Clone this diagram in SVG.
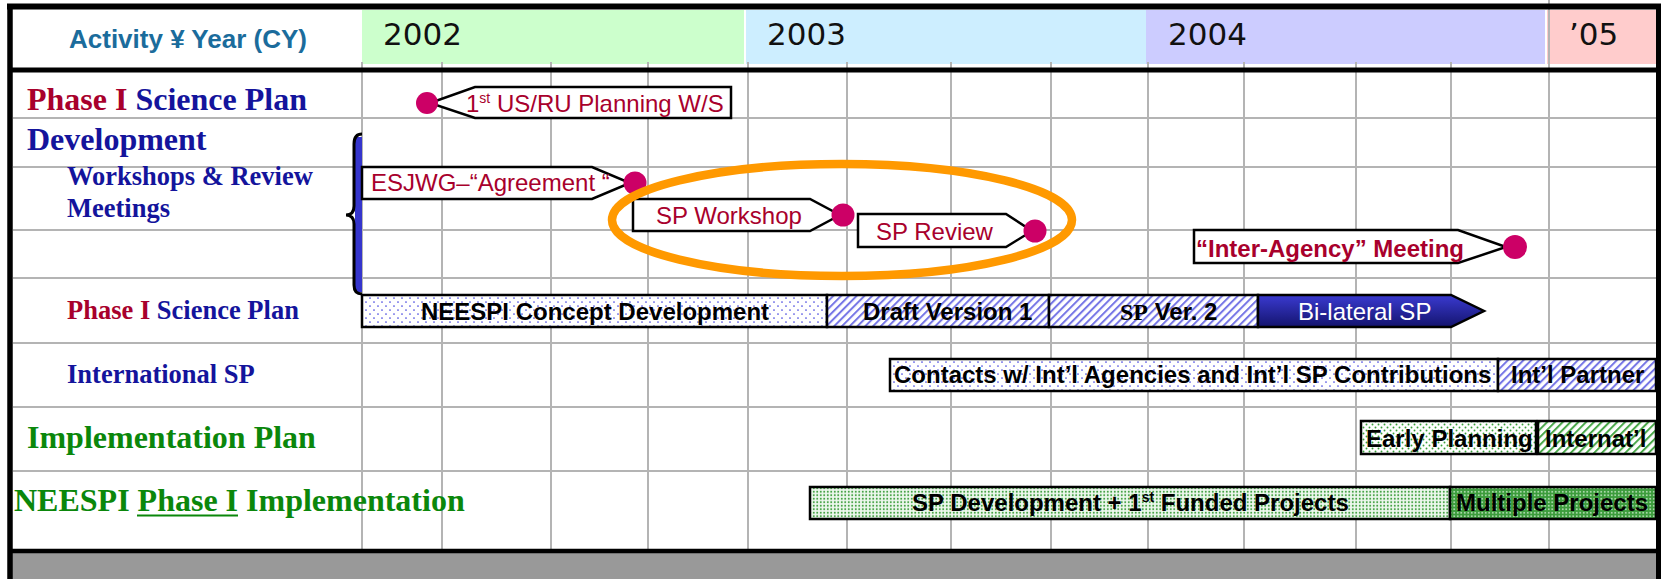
<svg xmlns="http://www.w3.org/2000/svg" width="1664" height="579" viewBox="0 0 1664 579">
  <defs>
    <style>
      .grid { stroke: #b4b4b4; stroke-width: 2; }
      .frame { stroke: #000; fill: none; }
      .lbl { font-family: "Liberation Serif", "Times New Roman", serif; font-weight: bold; }
      .big { font-size: 32px; }
      .sub { font-size: 26.5px; }
      .red { fill: #a8002c; }
      .navy { fill: #14149c; }
      .grn { fill: #0b870b; }
      .year { font-family: "DejaVu Sans", Verdana, sans-serif; font-size: 31px; fill: #111; }
      .callout { fill: #fff; stroke: #000; stroke-width: 2.5; stroke-linejoin: miter; }
      .ctext { font-family: "Liberation Sans", Arial, sans-serif; font-size: 24px; fill: #a8002c; }
      .dot { fill: #cc0066; }
      .bar { stroke: #000; stroke-width: 2.5; }
      .btext { font-family: "Liberation Sans", Arial, sans-serif; font-size: 24px; font-weight: bold; fill: #000; }
    </style>
    <pattern id="dotsBlue" width="8" height="8" patternUnits="userSpaceOnUse">
      <rect width="8" height="8" fill="#fff"/>
      <circle cx="2" cy="2" r="0.85" fill="#4646e0"/>
      <circle cx="6" cy="6" r="0.85" fill="#4646e0"/>
    </pattern>
    <pattern id="hatchBlue" width="5.5" height="5.5" patternUnits="userSpaceOnUse" patternTransform="rotate(45)">
      <rect width="5.5" height="5.5" fill="#fff"/>
      <rect width="2" height="5.5" fill="#7676e6"/>
    </pattern>
    <pattern id="dotsGreen" width="6" height="6" patternUnits="userSpaceOnUse">
      <rect width="6" height="6" fill="#fff"/>
      <circle cx="1.5" cy="1.5" r="0.95" fill="#3a9f3a"/>
      <circle cx="4.5" cy="4.5" r="0.95" fill="#3a9f3a"/>
    </pattern>
    <pattern id="hatchGreen" width="5.5" height="5.5" patternUnits="userSpaceOnUse" patternTransform="rotate(45)">
      <rect width="5.5" height="5.5" fill="#fff"/>
      <rect width="2" height="5.5" fill="#4aa84a"/>
    </pattern>
    <pattern id="denseGreen" width="3.5" height="3.5" patternUnits="userSpaceOnUse">
      <rect width="3.5" height="3.5" fill="#eef8ee"/>
      <circle cx="1.75" cy="1.75" r="1" fill="#3f9f3f"/>
    </pattern>
    <pattern id="darkGreen" width="3.5" height="3.5" patternUnits="userSpaceOnUse">
      <rect width="3.5" height="3.5" fill="#3c9c3c"/>
      <circle cx="1.75" cy="1.75" r="0.8" fill="#d8f0d8"/>
    </pattern>
    <linearGradient id="navyGrad" x1="0" y1="0" x2="0" y2="1">
      <stop offset="0" stop-color="#3a3ad0"/>
      <stop offset="1" stop-color="#14146e"/>
    </linearGradient>
  </defs>

  <rect width="1664" height="579" fill="#fff"/>

  <!-- header year bands -->
  <g id="header">
    <rect x="362" y="10" width="382" height="54" fill="#ccffcc"/>
    <rect x="746" y="10" width="400" height="54" fill="#cdeeff"/>
    <rect x="1146" y="10" width="399" height="54" fill="#ccccff"/>
    <rect x="1547" y="10" width="110" height="54" fill="#ffcccc"/>
    <text x="69" y="48" font-family="'Liberation Sans', Arial, sans-serif" font-size="26" font-weight="bold" fill="#1b6c9c">Activity ¥ Year (CY)</text>
    <text class="year" x="383" y="45">2002</text>
    <text class="year" x="767" y="45">2003</text>
    <text class="year" x="1168" y="45">2004</text>
    <text class="year" x="1569" y="45">’05</text>
  </g>

  <!-- grid -->
  <g id="grid">
    <g class="grid">
      <line x1="362" y1="62" x2="362" y2="550"/>
      <line x1="442" y1="62" x2="442" y2="550"/>
      <line x1="551" y1="62" x2="551" y2="550"/>
      <line x1="648" y1="62" x2="648" y2="550"/>
      <line x1="748" y1="62" x2="748" y2="550"/>
      <line x1="847" y1="62" x2="847" y2="550"/>
      <line x1="951" y1="62" x2="951" y2="550"/>
      <line x1="1051" y1="62" x2="1051" y2="550"/>
      <line x1="1148" y1="62" x2="1148" y2="550"/>
      <line x1="1244" y1="62" x2="1244" y2="550"/>
      <line x1="1356" y1="62" x2="1356" y2="550"/>
      <line x1="1451" y1="62" x2="1451" y2="550"/>
      <line x1="1549" y1="0" x2="1549" y2="550"/>
      <line x1="13" y1="118" x2="1656" y2="118"/>
      <line x1="13" y1="167" x2="1656" y2="167"/>
      <line x1="13" y1="230" x2="1656" y2="230"/>
      <line x1="13" y1="278" x2="1656" y2="278"/>
      <line x1="13" y1="343" x2="1656" y2="343"/>
      <line x1="13" y1="407" x2="1656" y2="407"/>
      <line x1="13" y1="471" x2="1656" y2="471"/>
    </g>
  </g>

  <!-- bottom band and frame -->
  <rect x="12" y="553" width="1645" height="26" fill="#999"/>
  <g id="frame" class="frame">
    <line x1="7" y1="6.5" x2="1661" y2="6.5" stroke-width="6"/>
    <line x1="10" y1="4" x2="10" y2="579" stroke-width="5.5"/>
    <line x1="1658.5" y1="4" x2="1658.5" y2="579" stroke-width="5"/>
    <line x1="10" y1="70" x2="1658" y2="70" stroke-width="5"/>
    <line x1="10" y1="551" x2="1658" y2="551" stroke-width="4.5"/>
  </g>

  <!-- row labels -->
  <g id="labels" class="lbl">
    <text class="big" x="27" y="110"><tspan class="red">Phase I </tspan><tspan class="navy">Science Plan</tspan></text>
    <text class="big navy" x="27" y="150">Development</text>
    <text class="sub navy" x="67" y="185">Workshops &amp; Review</text>
    <text class="sub navy" x="67" y="217">Meetings</text>
    <text class="sub" x="67" y="319"><tspan class="red">Phase I </tspan><tspan class="navy">Science Plan</tspan></text>
    <text class="sub navy" x="67" y="383">International SP</text>
    <text class="big grn" x="27" y="448">Implementation Plan</text>
    <text class="big grn" x="14" y="511">NEESPI Phase I Implementation</text>
    <line x1="137" y1="515.5" x2="238" y2="515.5" stroke="#0b870b" stroke-width="2"/>
  </g>

  <!-- brace grouping the workshop rows -->
  <g id="brace">
    <rect x="355" y="137" width="7" height="155" fill="#3535cc"/>
    <path d="M362,134 Q354,134 354,144 L354,206 Q354,215 346,215 Q354,215 354,224 L354,285 Q354,294 362,294" fill="none" stroke="#000" stroke-width="3"/>
  </g>

  <!-- milestone callouts -->
  <g id="ms-planning">
    <path class="callout" d="M475,87 L731,87 L731,118 L475,118 L430,103 Z"/>
    <circle class="dot" cx="427" cy="103" r="11"/>
    <text class="ctext" x="466" y="112">1<tspan font-size="14" dy="-9">st</tspan><tspan dy="9"> US/RU Planning W/S</tspan></text>
  </g>
  <g id="ms-esjwg">
    <path class="callout" d="M362,167 L592,167 L630,183 L592,199 L362,199 Z"/>
    <circle class="dot" cx="635" cy="183" r="11.5"/>
    <text class="ctext" x="371" y="191">ESJWG–“Agreement “</text>
  </g>
  <g id="ms-workshop">
    <path class="callout" d="M633,199 L810,199 L840,215 L810,231 L633,231 Z"/>
    <circle class="dot" cx="843" cy="215" r="11.5"/>
    <text class="ctext" x="656" y="224">SP Workshop</text>
  </g>
  <g id="ms-review">
    <path class="callout" d="M858,214 L1006,214 L1032,231 L1006,247 L858,247 Z"/>
    <circle class="dot" cx="1035" cy="231" r="11.5"/>
    <text class="ctext" x="876" y="240">SP Review</text>
  </g>
  <g id="ms-interagency">
    <path class="callout" d="M1194,230 L1458,230 L1506,247 L1458,263 L1194,263 Z"/>
    <circle class="dot" cx="1515" cy="247" r="12"/>
    <text class="ctext" x="1196" y="257" font-weight="bold">“Inter-Agency” Meeting</text>
  </g>

  <!-- highlight ring around workshop and review -->
  <ellipse id="highlight" cx="842" cy="220" rx="230" ry="56" fill="none" stroke="#ff9900" stroke-width="8.5"/>

  <!-- science plan bars -->
  <g id="bar-concept">
    <rect class="bar" x="362" y="295" width="465" height="32" fill="url(#dotsBlue)"/>
    <text class="btext" x="421" y="320">NEESPI Concept Development</text>
  </g>
  <g id="bar-draft">
    <rect class="bar" x="827" y="295" width="222" height="32" fill="url(#hatchBlue)"/>
    <text class="btext" x="863" y="320">Draft Version 1</text>
  </g>
  <g id="bar-ver2">
    <rect class="bar" x="1049" y="295" width="209" height="32" fill="url(#hatchBlue)" stroke-width="3"/>
    <text class="btext" x="1120" y="320"><tspan font-family="'Liberation Serif', 'Times New Roman', serif">SP</tspan> Ver. 2</text>
  </g>
  <g id="bar-bilateral">
    <path class="bar" d="M1258,295 L1451,295 L1484,311 L1451,327 L1258,327 Z" fill="url(#navyGrad)"/>
    <text x="1298" y="320" font-family="'Liberation Sans', Arial, sans-serif" font-size="24" fill="#fff">Bi-lateral SP</text>
  </g>

  <!-- international bars -->
  <g id="bar-contacts">
    <rect class="bar" x="890" y="359" width="608" height="32" fill="url(#dotsBlue)"/>
    <text class="btext" x="894" y="383">Contacts w/ Int’l Agencies and Int’l SP Contributions</text>
  </g>
  <g id="bar-partner">
    <rect class="bar" x="1498" y="359" width="158" height="32" fill="url(#hatchBlue)"/>
    <text class="btext" x="1511" y="383">Int’l Partner</text>
  </g>

  <!-- implementation plan bars -->
  <g id="bar-early">
    <rect class="bar" x="1361" y="421" width="175" height="33" fill="url(#dotsGreen)"/>
    <text class="btext" x="1366" y="447">Early Planning</text>
  </g>
  <g id="bar-internatl">
    <rect class="bar" x="1538" y="421" width="118" height="33" fill="url(#hatchGreen)"/>
    <text class="btext" x="1545" y="447">Internat’l</text>
  </g>

  <!-- phase I implementation bars -->
  <g id="bar-spdev">
    <rect class="bar" x="810" y="487" width="640" height="32" fill="url(#denseGreen)"/>
    <text class="btext" x="912" y="511">SP Development + 1<tspan font-size="14" dy="-9">st</tspan><tspan dy="9"> Funded Projects</tspan></text>
  </g>
  <g id="bar-multiple">
    <rect class="bar" x="1450" y="487" width="206" height="32" fill="url(#darkGreen)"/>
    <text class="btext" x="1456" y="511">Multiple Projects</text>
  </g>
</svg>
